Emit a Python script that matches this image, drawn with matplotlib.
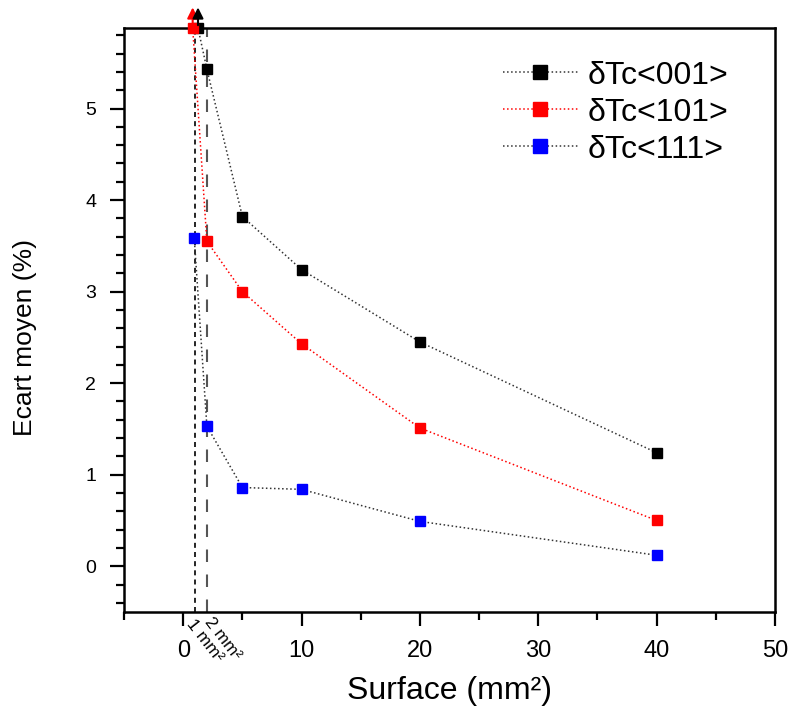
import matplotlib
matplotlib.use("Agg")
import matplotlib.pyplot as plt
from matplotlib.ticker import MultipleLocator

plt.rcParams['font.family'] = ['Liberation Sans', 'DejaVu Sans']

# Data (first points of 001/101 are off-scale, drawn at top with arrows)
surface_001 = [1.25, 2, 5, 10, 20, 40]
ecart_001 = [5.88, 5.43, 3.82, 3.24, 2.45, 1.24]
surface_101 = [0.8, 2, 5, 10, 20, 40]
ecart_101 = [5.88, 3.55, 3.00, 2.43, 1.51, 0.50]
surface_111 = [0.93, 2, 5, 10, 20, 40]
ecart_111 = [3.59, 1.53, 0.86, 0.84, 0.49, 0.12]
labels = ["δTc<001>", "δTc<101>", "δTc<111>"]
x_ticks = [0, 10, 20, 30, 40, 50]
y_ticks = [0, 1, 2, 3, 4, 5]

fig = plt.figure(figsize=(7.9, 7.1), dpi=100)
ax = fig.add_axes([0.157, 0.138, 0.824, 0.8226])

ax.axvline(1, color='black', lw=1.2, ls=(0, (3, 2.5)), zorder=1)
ax.axvline(2, color='#555555', lw=1.5, ls=(0, (6, 6)), zorder=1)

series = [(surface_001, ecart_001, 'black', '#333333'),
          (surface_101, ecart_101, 'red', 'red'),
          (surface_111, ecart_111, 'blue', '#333333')]
for (xs, ys, mc, lc), lab in zip(series, labels):
    ax.plot(xs, ys, ls=':', color=lc, lw=1.1, marker='s', ms=7,
            mfc=mc, mec=mc, label=lab, clip_on=False, zorder=3)

# arrows for off-scale points
ax.annotate('', xy=(surface_101[0], 1.04), xycoords=('data', 'axes fraction'),
            xytext=(surface_101[0], 1.0), textcoords=('data', 'axes fraction'),
            arrowprops=dict(arrowstyle='-|>', color='red', lw=1.5, mutation_scale=16))
ax.annotate('', xy=(surface_001[0], 1.04), xycoords=('data', 'axes fraction'),
            xytext=(surface_001[0], 1.0), textcoords=('data', 'axes fraction'),
            arrowprops=dict(arrowstyle='-|>', color='black', lw=1.5, mutation_scale=16))

ax.set_xlim(-5, 50)
ax.set_ylim(-0.5, 5.88)
ax.set_xticks(x_ticks)
ax.set_yticks(y_ticks)
ax.xaxis.set_minor_locator(MultipleLocator(5))
ax.yaxis.set_minor_locator(MultipleLocator(0.2))
ax.tick_params(which='major', direction='out', length=10, width=1.6)
ax.tick_params(which='minor', direction='out', length=5.5, width=1.6)
ax.tick_params(axis='x', which='major', labelsize=17, pad=10)
ax.tick_params(axis='y', which='major', labelsize=14, pad=10)
for s in ax.spines.values():
    s.set_linewidth(1.8)

ax.set_xlabel('Surface (mm²)', fontsize=23, labelpad=10)
ax.set_ylabel('Ecart moyen (%)', fontsize=19)
ax.yaxis.set_label_coords(-0.133, 0.47)

ax.annotate('1 mm²', xy=(1, 0), xycoords=('data', 'axes fraction'),
            xytext=(0.5, -3), textcoords='offset points', rotation=-52,
            fontsize=12.5, ha='left', va='top', rotation_mode='anchor')
ax.annotate('2 mm²', xy=(2, 0), xycoords=('data', 'axes fraction'),
            xytext=(5, -2), textcoords='offset points', rotation=-52,
            fontsize=12.5, ha='left', va='top', rotation_mode='anchor')

leg = ax.legend(loc='upper right', bbox_to_anchor=(0.948, 0.966), borderaxespad=0,
                fontsize=23, frameon=False, handlelength=2.35, markerscale=1.4,
                labelspacing=0.22, handletextpad=0.3)

fig.savefig('out.png', dpi=100)
